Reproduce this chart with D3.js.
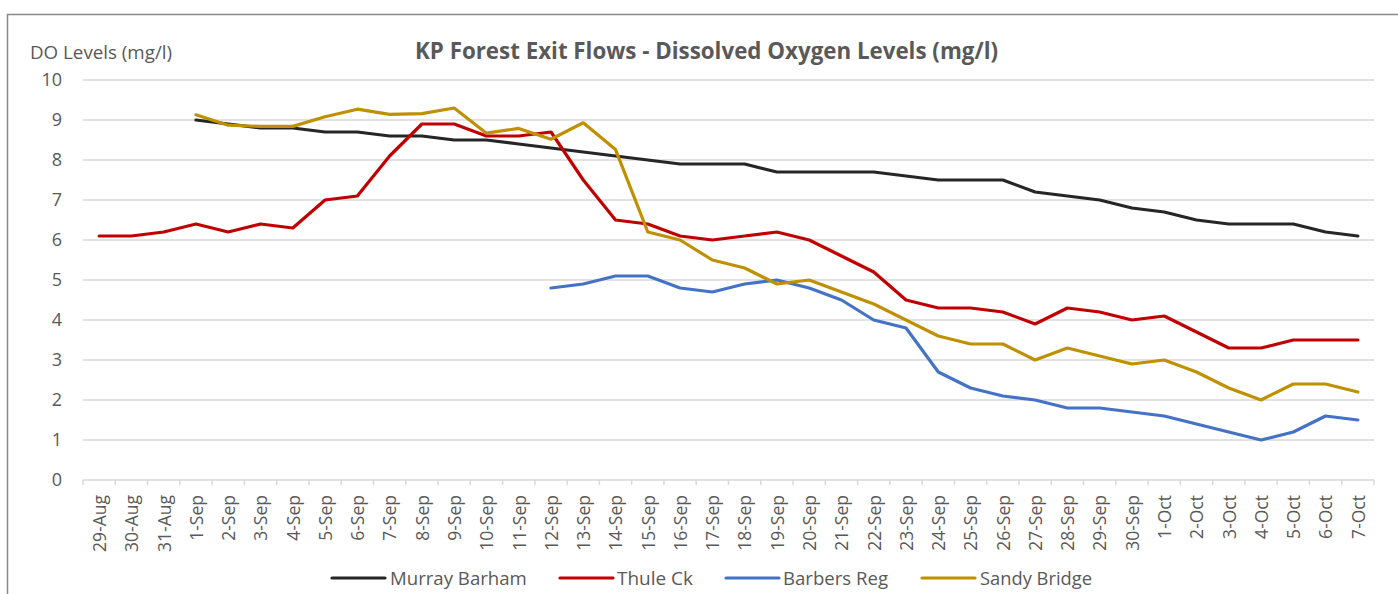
<!DOCTYPE html>
<html>
<head>
<meta charset="utf-8">
<script src="https://cdn.jsdelivr.net/npm/d3@7"></script>
<style>
  html, body { margin: 0; padding: 0; background: #fff; }
  svg { display: block; font-family: "Open Sans", "Noto Sans", sans-serif; }
</style>
</head>
<body>
<svg id="chart" width="1398" height="594"></svg>
<script>
const categories = ["29-Aug","30-Aug","31-Aug","1-Sep","2-Sep","3-Sep","4-Sep","5-Sep","6-Sep","7-Sep","8-Sep","9-Sep","10-Sep","11-Sep","12-Sep","13-Sep","14-Sep","15-Sep","16-Sep","17-Sep","18-Sep","19-Sep","20-Sep","21-Sep","22-Sep","23-Sep","24-Sep","25-Sep","26-Sep","27-Sep","28-Sep","29-Sep","30-Sep","1-Oct","2-Oct","3-Oct","4-Oct","5-Oct","6-Oct","7-Oct"];

const murrayBarham = [null,null,null,9.0,8.9,8.8,8.8,8.7,8.7,8.6,8.6,8.5,8.5,8.4,8.3,8.2,8.1,8.0,7.9,7.9,7.9,7.7,7.7,7.7,7.7,7.6,7.5,7.5,7.5,7.2,7.1,7.0,6.8,6.7,6.5,6.4,6.4,6.4,6.2,6.1];
const thuleCk = [6.1,6.1,6.2,6.4,6.2,6.4,6.3,7.0,7.1,8.1,8.9,8.9,8.6,8.6,8.7,7.5,6.5,6.4,6.1,6.0,6.1,6.2,6.0,5.6,5.2,4.5,4.3,4.3,4.2,3.9,4.3,4.2,4.0,4.1,3.7,3.3,3.3,3.5,3.5,3.5];
const barbersReg = [null,null,null,null,null,null,null,null,null,null,null,null,null,null,4.8,4.9,5.1,5.1,4.8,4.7,4.9,5.0,4.8,4.5,4.0,3.8,2.7,2.3,2.1,2.0,1.8,1.8,1.7,1.6,1.4,1.2,1.0,1.2,1.6,1.5];
const sandyBridge = [null,null,null,9.13,8.87,8.84,8.84,9.08,9.27,9.14,9.16,9.3,8.67,8.79,8.52,8.93,8.26,6.2,6.0,5.5,5.3,4.9,5.0,4.7,4.4,4.0,3.6,3.4,3.4,3.0,3.3,3.1,2.9,3.0,2.7,2.3,2.0,2.4,2.4,2.2];

const seriesNames = ["Murray Barham","Thule Ck","Barbers Reg","Sandy Bridge"];
const seriesColors = ["#262626","#C00000","#4472C4","#BF9000"];
const yTicks = [0,1,2,3,4,5,6,7,8,9,10];

const titleText = "KP Forest Exit Flows - Dissolved Oxygen Levels (mg/l)";
const yAxisTitle = "DO Levels (mg/l)";

const seriesData = [murrayBarham, thuleCk, barbersReg, sandyBridge];

const svg = d3.select("#chart");
const W = 1398, H = 594;
const plot = { left: 83, right: 1374, top: 80, bottom: 480 };

const gray = "#595959";
const gridColor = "#d9d9d9";

// outer chart border
svg.append("rect")
  .attr("x", 7.5).attr("y", 14.5)
  .attr("width", W + 20).attr("height", H + 20)
  .attr("fill", "none").attr("stroke", "#898989").attr("stroke-width", 1.5);

const xBand = d3.scaleBand().domain(categories).range([plot.left, plot.right]).paddingInner(0).paddingOuter(0);
const x = d3.scalePoint().domain(categories).range([plot.left, plot.right]).padding(0.5);
const y = d3.scaleLinear().domain([0, 10]).range([plot.bottom, plot.top]);

function fitWidth(sel, target) {
  const node = sel.node();
  const fs = parseFloat(sel.attr("font-size"));
  const w = node.getComputedTextLength();
  sel.attr("font-size", (fs * target / w).toFixed(2));
}

// gridlines
const grid = svg.append("g");
grid.selectAll("line").data(yTicks).join("line")
  .attr("x1", plot.left).attr("x2", plot.right)
  .attr("y1", d => y(d)).attr("y2", d => y(d))
  .attr("stroke", gridColor).attr("stroke-width", 1.5);

// y axis labels
const yAxis = d3.axisLeft(y).tickValues(yTicks).tickSize(0).tickPadding(21);
const yg = svg.append("g").attr("transform", `translate(${plot.left},0)`).call(yAxis);
yg.select(".domain").remove();
yg.selectAll("text").attr("font-size", 18).attr("fill", gray)
  .attr("font-family", "'Open Sans', sans-serif");

// x axis: boundary ticks
const boundaries = categories.map(c => xBand(c)).concat([xBand.range()[1]]);
svg.append("g").selectAll("line").data(boundaries).join("line")
  .attr("x1", d => d).attr("x2", d => d)
  .attr("y1", plot.bottom).attr("y2", plot.bottom + 5)
  .attr("stroke", gridColor).attr("stroke-width", 1.5);

const xAxis = d3.axisBottom(x).tickSize(0).tickPadding(0);
const xg = svg.append("g").attr("transform", `translate(0,${plot.bottom})`).call(xAxis);
xg.select(".domain").remove();
xg.selectAll(".tick text")
  .attr("font-size", 17.5).attr("fill", gray)
  .attr("font-family", "'Open Sans', sans-serif")
  .attr("transform", "rotate(-90)")
  .attr("text-anchor", "end")
  .attr("x", -15).attr("y", 0).attr("dy", "0.36em");

// lines
const lineGen = d3.line()
  .defined(d => d.v !== null)
  .x(d => x(d.c))
  .y(d => y(d.v));

seriesData.forEach((arr, i) => {
  const pts = categories.map((c, j) => ({ c, v: arr[j] }));
  svg.append("path")
    .datum(pts)
    .attr("d", lineGen)
    .attr("fill", "none")
    .attr("stroke", seriesColors[i])
    .attr("stroke-width", 3.2)
    .attr("stroke-linejoin", "round")
    .attr("stroke-linecap", "round");
});

// title
const title = svg.append("text")
  .attr("x", 415).attr("y", 59)
  .attr("font-size", 20).attr("font-weight", "bold")
  .attr("fill", gray)
  .text(titleText);
fitWidth(title, 583);

// y axis title
const yt = svg.append("text")
  .attr("x", 30).attr("y", 59)
  .attr("font-size", 16).attr("fill", gray)
  .text(yAxisTitle);
fitWidth(yt, 142);

// legend
const legendItems = [
  { lx: 332, tx: 390, tw: 137 },
  { lx: 560, tx: 617, tw: 76 },
  { lx: 726, tx: 783, tw: 105 },
  { lx: 922, tx: 980, tw: 112 }
];
const lg = svg.append("g");
seriesNames.forEach((name, i) => {
  const it = legendItems[i];
  lg.append("line")
    .attr("x1", it.lx).attr("x2", it.lx + 53)
    .attr("y1", 578).attr("y2", 578)
    .attr("stroke", seriesColors[i]).attr("stroke-width", 3.2)
    .attr("stroke-linecap", "round");
  const t = lg.append("text")
    .attr("x", it.tx).attr("y", 584.5)
    .attr("font-size", 17).attr("fill", gray)
    .text(name);
  fitWidth(t, it.tw);
});
</script>
</body>
</html>
